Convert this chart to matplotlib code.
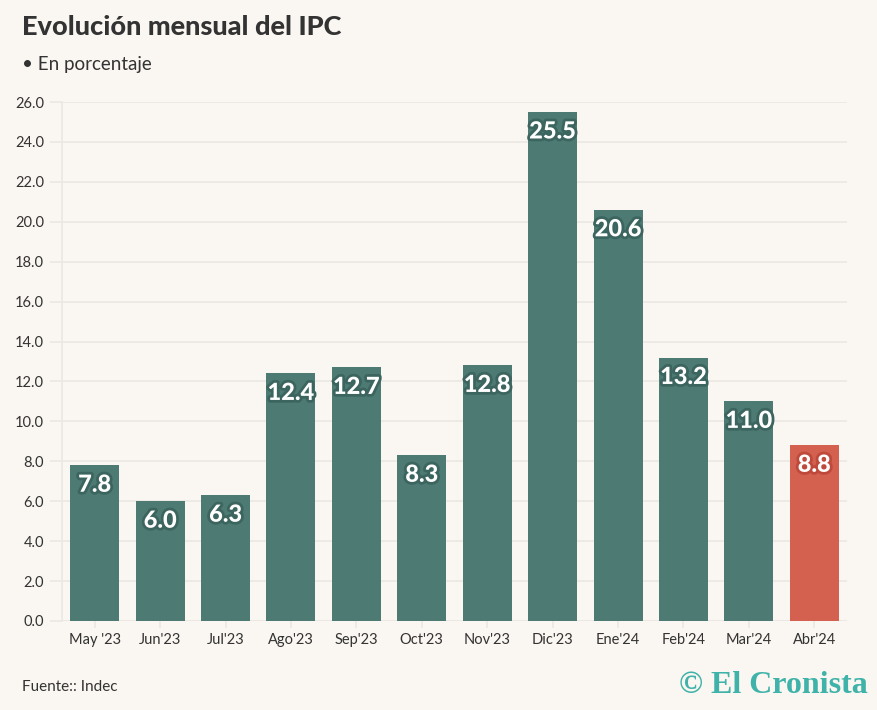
import matplotlib.pyplot as plt
import matplotlib.patheffects as pe

plt.rcParams['font.family'] = ['Lato', 'DejaVu Sans']

# datos
meses = ["May '23", "Jun'23", "Jul'23", "Ago'23", "Sep'23", "Oct'23",
         "Nov'23", "Dic'23", "Ene'24", "Feb'24", "Mar'24", "Abr'24"]
ipc = [7.8, 6.0, 6.3, 12.4, 12.7, 8.3, 12.8, 25.5, 20.6, 13.2, 11.0, 8.8]
yticks = [0, 2, 4, 6, 8, 10, 12, 14, 16, 18, 20, 22, 24, 26]

fondo = '#faf6f1'
verde = '#4d7b74'
rojo = '#d4604f'
gris = '#ebe7e3'

fig = plt.figure(figsize=(8.77, 7.10), dpi=100, facecolor=fondo)
ax = fig.add_axes([0.0707, 0.1254, 0.8951, 0.7309], facecolor=fondo)

colores = [verde] * (len(ipc) - 1) + [rojo]
bordes = ['#3c655f'] * (len(ipc) - 1) + ['#bf4a3b']
x = list(range(len(ipc)))
ax.bar(x, ipc, width=0.75, color=colores, zorder=3)

for i, v in enumerate(ipc):
    ax.text(i, v - 0.95, f'{v:.1f}', ha='center', va='center', color='white',
            fontsize=17, fontweight='black', zorder=4,
            path_effects=[pe.withStroke(linewidth=4, foreground=bordes[i])])

ax.set_xlim(-0.5, 11.5)
ax.set_ylim(0, 26)
ax.set_yticks(yticks)
ax.set_yticklabels([f'{t:.1f}' for t in yticks])
ax.set_xticks(x)
ax.set_xticklabels(meses)
ax.grid(axis='y', color=gris, linewidth=1.2, zorder=0)
for s in ['top', 'right', 'bottom']:
    ax.spines[s].set_visible(False)
ax.spines['left'].set_color(gris)
ax.spines['left'].set_linewidth(1.2)
ax.axhline(0, color=gris, linewidth=1.2, zorder=2)
ax.tick_params(axis='y', length=9, color=gris, width=1.2, labelsize=10.5,
               labelcolor='#333333', pad=4)
ax.tick_params(axis='x', length=5, color=gris, width=1.2, labelsize=10.5,
               labelcolor='#333333', pad=4)

fig.text(0.025, 0.962, 'Evolución mensual del IPC', fontsize=19.5, fontweight='black',
         color='#333333', va='center')
fig.text(0.025, 0.909, '• En porcentaje', fontsize=13.5, color='#333333', va='center')
fig.text(0.025, 0.033, 'Fuente:: Indec', fontsize=11, color='#333333', va='center')
fig.text(0.99, 0.035, '© El Cronista', fontsize=23, fontweight='bold',
         family=['Liberation Serif', 'DejaVu Serif'], color='#3fb3a9',
         ha='right', va='center')

fig.savefig('out.png', dpi=100, facecolor=fondo)
